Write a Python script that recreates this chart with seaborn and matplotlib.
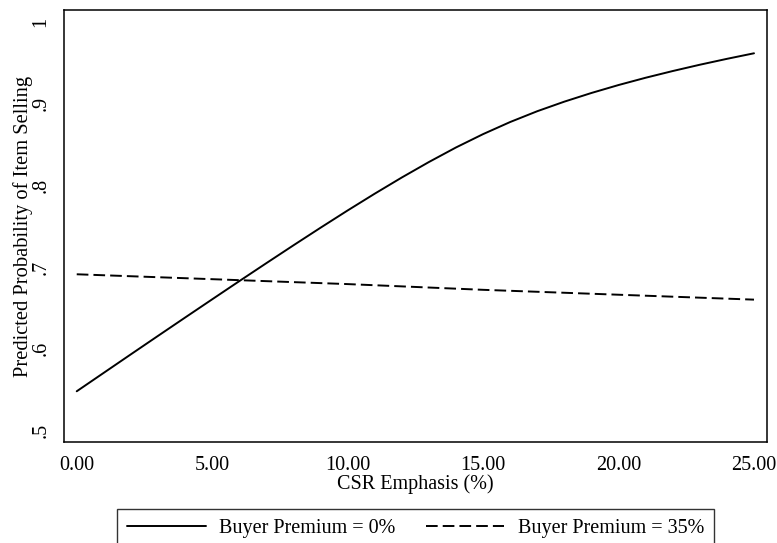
import matplotlib
matplotlib.use("Agg")
import matplotlib.pyplot as plt
import seaborn as sns
import pandas as pd

# ---- data ----
csr_solid = list(range(0, 26))
prob_premium_0 = [0.5480, 0.5706, 0.5932, 0.6157, 0.6381, 0.6604, 0.6826, 0.7046,
                  0.7264, 0.7479, 0.7690, 0.7895, 0.8093, 0.8282, 0.8460, 0.8623,
                  0.8771, 0.8903, 0.9020, 0.9126, 0.9223, 0.9312, 0.9394, 0.9471,
                  0.9543, 0.9611]
csr_dashed = [0, 5, 10, 15, 20, 25]
prob_premium_35 = [0.691, 0.685, 0.679, 0.672, 0.666, 0.660]

x_ticks = [0, 5, 10, 15, 20, 25]
x_tick_labels = ["0.00", "5.00", "10.00", "15.00", "20.00", "25.00"]
y_ticks = [0.5, 0.6, 0.7, 0.8, 0.9, 1.0]
y_tick_labels = [".5", ".6", ".7", ".8", ".9", "1"]
series_labels = ["Buyer Premium = 0%", "Buyer Premium = 35%"]

sns.set_theme(style="white")
plt.rcParams["font.family"] = ["Liberation Serif", "DejaVu Serif"]
plt.rcParams["text.color"] = "black"
plt.rcParams["axes.labelcolor"] = "black"
plt.rcParams["xtick.color"] = "black"
plt.rcParams["ytick.color"] = "black"

fig = plt.figure(figsize=(7.77, 5.43), dpi=100)
ax = fig.add_axes([64 / 777, 1 - 442 / 543, (767 - 64) / 777, (442 - 10) / 543])

df0 = pd.DataFrame({"x": csr_solid, "y": prob_premium_0})
df35 = pd.DataFrame({"x": csr_dashed, "y": prob_premium_35})

sns.lineplot(data=df0, x="x", y="y", ax=ax, color="black", linewidth=1.4,
             label=series_labels[0])
sns.lineplot(data=df35, x="x", y="y", ax=ax, color="black", linewidth=1.4,
             linestyle=(0, (6, 2.6)), label=series_labels[1])

ax.set_xlim(-0.47, 25.48)
ax.set_ylim(0.486, 1.014)
ax.set_xticks(x_ticks)
ax.set_xticklabels(x_tick_labels, fontsize=14.5)
ax.set_yticks(y_ticks)
ax.set_yticklabels(y_tick_labels, fontsize=14.5, rotation=90, va="center")
ax.tick_params(axis="both", direction="out", length=5.8, width=0.9)
ax.tick_params(axis="x", pad=4)
ax.tick_params(axis="y", pad=4)

for s in ax.spines.values():
    s.set_color("black")
    s.set_linewidth(1.1)

ax.set_xlabel("CSR Emphasis (%)", fontsize=14.5, labelpad=0)
ax.set_ylabel("Predicted Probability of Item Selling", fontsize=14.8, labelpad=-1)

handles, labels = ax.get_legend_handles_labels()
ax.get_legend().remove()
leg = fig.legend(handles, labels, loc="upper left", ncol=2,
                 bbox_to_anchor=(117 / 777, 1 - 509 / 543, (714 - 117) / 777, 0),
                 mode="expand", fontsize=14.5, frameon=True, fancybox=False,
                 edgecolor="black", handlelength=3.9, handletextpad=0.65,
                 columnspacing=1.7, borderpad=0.5, borderaxespad=0)
leg.get_frame().set_linewidth(1.0)

fig.savefig("out.png", dpi=100, facecolor="white")
